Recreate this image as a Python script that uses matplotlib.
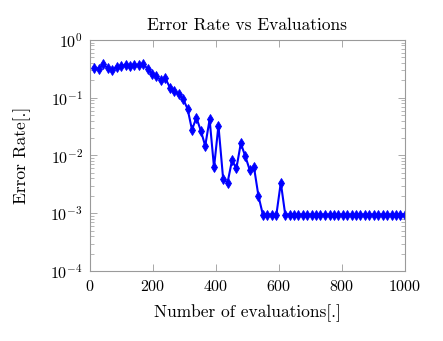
"""
Error rate vs number of evaluations (log scale), pgfplots-like look.
"""
import matplotlib
matplotlib.use("Agg")
import matplotlib.pyplot as plt
from matplotlib.ticker import LogLocator, NullFormatter, MultipleLocator

# evaluations (x) and error rate (y)
evaluations = [14, 28, 42, 56, 70, 85, 99, 113, 127, 141,
               155, 169, 183, 197, 211, 225, 239, 254, 268, 282,
               296, 310, 324, 338, 352, 366, 380, 394, 408, 423,
               437, 451, 465, 479, 493, 507, 521, 535, 549, 563,
               577, 592, 606, 620, 634, 648, 662, 676, 690, 704,
               718, 732, 746, 761, 775, 789, 803, 817, 831, 845,
               859, 873, 887, 901, 915, 930, 944, 958, 972, 986,
               1000]
error_rate = [0.325, 0.318, 0.38, 0.325, 0.30, 0.345, 0.35, 0.37, 0.36, 0.37,
              0.37, 0.38, 0.318, 0.26, 0.236, 0.20, 0.218, 0.15, 0.128, 0.116,
              0.095, 0.064, 0.028, 0.045, 0.027, 0.0147, 0.042, 0.0062, 0.033, 0.0039,
              0.0034, 0.0082, 0.006, 0.0162, 0.0098, 0.0057, 0.0062, 0.002, 0.00095, 0.00095,
              0.00095, 0.00095, 0.0034, 0.00095, 0.00095, 0.00095, 0.00095, 0.00095, 0.00095, 0.00095,
              0.00095, 0.00095, 0.00095, 0.00095, 0.00095, 0.00095, 0.00095, 0.00095, 0.00095, 0.00095,
              0.00095, 0.00095, 0.00095, 0.00095, 0.00095, 0.00095, 0.00095, 0.00095, 0.00095, 0.00095,
              0.00095]

plt.rcParams["font.family"] = ["cmr10", "DejaVu Serif"]
plt.rcParams["mathtext.fontset"] = "cm"
plt.rcParams["axes.formatter.use_mathtext"] = True

axis_grey = "#9a9a9a"

fig = plt.figure(figsize=(4.43, 3.41), dpi=100)
ax = fig.add_axes([0.203, 0.205, 0.711, 0.678])

ax.plot(evaluations, error_rate, color="#0000ff", linewidth=1.5,
        marker="d", markersize=5.5, markeredgewidth=0.6)

ax.set_yscale("log")
ax.set_xlim(0, 1000)
ax.set_ylim(1e-4, 1e0)
ax.xaxis.set_major_locator(MultipleLocator(200))
ax.yaxis.set_major_locator(LogLocator(base=10, numticks=10))
ax.yaxis.set_minor_locator(LogLocator(base=10, subs=range(2, 10), numticks=10))
ax.yaxis.set_minor_formatter(NullFormatter())

for s in ax.spines.values():
    s.set_color(axis_grey)
    s.set_linewidth(0.8)
ax.tick_params(which="both", direction="in", top=True, right=True,
               color=axis_grey, labelcolor="black", labelsize=11.5)
ax.tick_params(which="major", length=5, width=0.6)
ax.tick_params(which="minor", length=3, width=0.5)
ax.tick_params(axis="x", pad=6)
ax.tick_params(axis="y", pad=5)

ax.set_title("Error Rate vs Evaluations", fontsize=12.5, pad=7)
ax.set_xlabel("Number of evaluations[.]", fontsize=12.5, labelpad=7)
ax.set_ylabel("Error Rate[.]", fontsize=12.5, labelpad=14)

fig.savefig("out.png", dpi=100)
plt.close(fig)
